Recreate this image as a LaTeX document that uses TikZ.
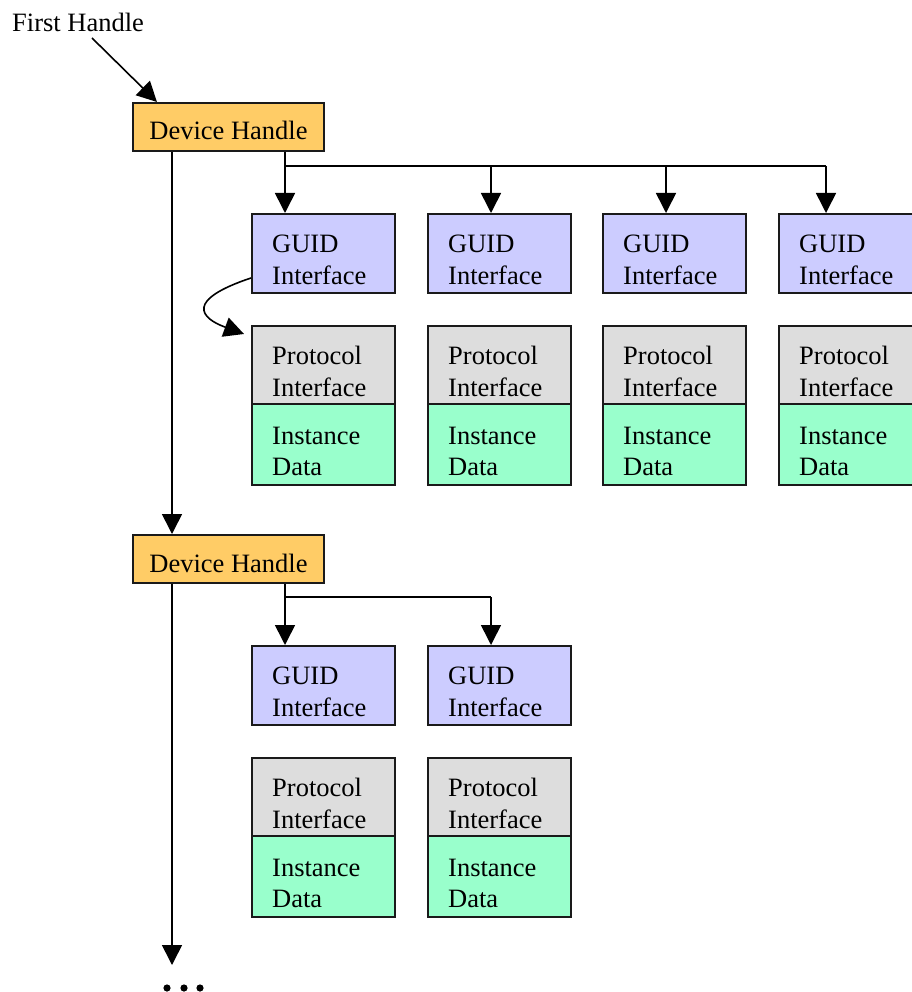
\documentclass[tikz,border=0pt]{standalone}
\usepackage{fontspec}
\setmainfont{Liberation Serif}
\usetikzlibrary{arrows.meta,calc}

\definecolor{handlefill}{HTML}{FFCC66}
\definecolor{guidfill}{HTML}{CCCCFF}
\definecolor{protofill}{HTML}{DDDDDD}
\definecolor{instfill}{HTML}{99FFCC}
\definecolor{edge}{HTML}{1A1A1A}

\tikzset{
  box/.style={draw=edge, line width=1.6pt, anchor=north west, inner sep=0pt,
              minimum width=143.4pt, minimum height=79.4pt},
  handlebox/.style={box, fill=handlefill, minimum width=191.4pt, minimum height=48.4pt},
  guidbox/.style={box, fill=guidfill},
  protobox/.style={box, fill=protofill, minimum height=78.4pt},
  instbox/.style={box, fill=instfill, minimum height=81pt},
  lbl/.style={anchor=base west, inner sep=0pt,
              font=\fontsize{26.5}{32}\selectfont},
  conn/.style={line width=1.6pt, draw=black},
  arr/.style={conn, -{Triangle[length=20pt,width=20pt]}},
}

% one protocol stack: GUID box, protocol box, instance box with their labels
\newcommand{\protostack}[4]{% #1 name prefix, #2 left x, #3 GUID top y, #4 protocol top y
  \node[guidbox] (#1g) at (#2,#3) {};
  \node[lbl] (#1gt1) at ($(#1g.north west)+(21,39)$) {GUID};
  \node[lbl] (#1gt2) at ($(#1g.north west)+(21,71)$) {Interface};
  \node[protobox] (#1p) at (#2,#4) {};
  \node[lbl] (#1pt1) at ($(#1p.north west)+(21,39)$) {Protocol};
  \node[lbl] (#1pt2) at ($(#1p.north west)+(21,71)$) {Interface};
  % the instance box shares its top border with the protocol box
  \node[instbox] (#1i) at ($(#1p.south west)+(0,-1.6)$) {};
  \node[lbl] (#1it1) at ($(#1p.south west)+(21,39)$) {Instance};
  \node[lbl] (#1it2) at ($(#1p.south west)+(21,70)$) {Data};
}

\begin{document}
\begin{tikzpicture}[x=1pt,y=-1pt]
\useasboundingbox (0,0) rectangle (911,992);

% entry label
\node[lbl] (fh) at (12,32) {First Handle};

% first device handle and its four protocols
\node[handlebox] (dh1) at (132,102) {};
\node[lbl, anchor=base] (dh1t) at ($(dh1.north)+(0,38)$) {Device Handle};

\protostack{a}{251}{213}{325}
\protostack{b}{427}{213}{325}
\protostack{c}{602}{213}{325}
\protostack{d}{778}{213}{325}

% second device handle and its two protocols
\node[handlebox] (dh2) at (132,534) {};
\node[lbl, anchor=base] (dh2t) at ($(dh2.north)+(0,38)$) {Device Handle};

\protostack{e}{251}{645}{757}
\protostack{f}{427}{645}{757}

% routing points
\coordinate (spine) at (172,0);
\coordinate (r1) at (285,166);
\coordinate (r2) at (491,166);
\coordinate (r3) at (666,166);
\coordinate (r4) at (826,166);
\coordinate (s1) at (285,597);
\coordinate (s2) at (491,597);
\coordinate (fhtail) at ($(fh.base west)+(80,6)$);
\coordinate (more) at (172,965);

% connectors
\draw[arr] (fhtail) -- ($(dh1.north west)+(25,0)$);

\draw[arr] (spine |- dh1.south) -- (spine |- dh2.north);
\draw[arr] (spine |- dh2.south) -- (more);

\draw[conn] (r1 |- dh1.south) -- (r1) -- (r4);
\draw[arr] (r1) -- (r1 |- ag.north);
\draw[arr] (r2) -- (r2 |- bg.north);
\draw[arr] (r3) -- (r3 |- cg.north);
\draw[arr] (r4) -- (r4 |- dg.north);

\draw[conn] (s1 |- dh2.south) -- (s1) -- (s2);
\draw[arr] (s1) -- (s1 |- eg.north);
\draw[arr] (s2) -- (s2 |- fg.north);

% GUID to its protocol interface
\draw[arr] ($(ag.north west)+(0,65)$) .. controls (185,300) and (200,318) .. ($(ap.north west)+(-7,9)$);

% continuation marks
\fill (167,988) circle (3.6);
\fill (184,988) circle (3.6);
\fill (200,988) circle (3.6);
\end{tikzpicture}
\end{document}
